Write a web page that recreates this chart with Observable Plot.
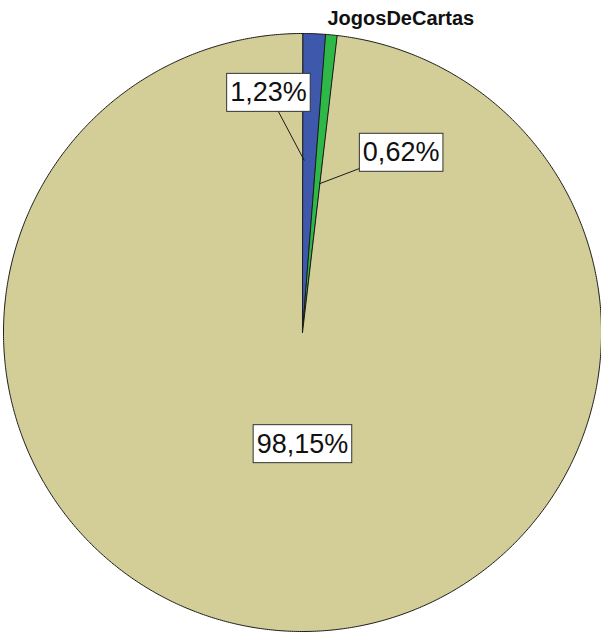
<!DOCTYPE html>
<html><head><meta charset="utf-8">
<script src="https://cdn.jsdelivr.net/npm/d3@7"></script>
<script src="https://cdn.jsdelivr.net/npm/@observablehq/plot@0.6"></script>
<style>body{margin:0;background:#fff}</style>
</head><body><div id="chart"></div>
<script>
// ---- data ----
const categories = ["Outros", "JogosDeCartas", "Restante"];
const values = [1.23, 0.62, 98.15];
const pctLabels = ["1,23%", "0,62%", "98,15%"];
const colors = ["#3e58ac", "#2eb848", "#d3ce97"];
const namedCategory = "JogosDeCartas";

// ---- layout (label placement, polar: angle shift in degrees, radius as fraction) ----
const labelPlacement = [
  {shift: -10.3, r: 0.81, anchorR: 0.575, anchorShift: -1.6},
  {shift: 23.2, r: 0.686, anchorR: 0.5, anchorShift: 0.8},
  {shift: -3.3, r: 0.373, anchorR: null, anchorShift: 0}
];
const nameLabel = {angle: 17.4, r: 1.1};

const pie = d3.pie().sort(null).value(d => d.value).startAngle(0).endAngle(2 * Math.PI);
const arcs = pie(categories.map((c, i) => ({cat: c, value: values[i], label: pctLabels[i]})));

const pts = [];
arcs.forEach(a => {
  pts.push({cat: a.data.cat, x: 0, y: 0});
  const n = Math.max(2, Math.ceil((a.endAngle - a.startAngle) / (0.4 * Math.PI / 180)));
  for (let k = 0; k <= n; k++) {
    const t = a.startAngle + (a.endAngle - a.startAngle) * k / n;
    pts.push({cat: a.data.cat, x: Math.sin(t), y: Math.cos(t)});
  }
});

const deg = Math.PI / 180;
const lab = arcs.map((a, i) => {
  const mid = (a.startAngle + a.endAngle) / 2;
  const p = labelPlacement[i];
  const la = mid + p.shift * deg;
  const aa = mid + p.anchorShift * deg;
  return {
    label: a.data.label,
    x: p.r * Math.sin(la), y: p.r * Math.cos(la),
    ax: p.anchorR == null ? null : p.anchorR * Math.sin(aa),
    ay: p.anchorR == null ? null : p.anchorR * Math.cos(aa)
  };
});
const leaders = lab.filter(d => d.ax != null);
const nameA = nameLabel.angle * deg;

const chart = Plot.plot({
  width: 601, height: 633,
  margin: 0,
  style: {fontFamily: "'Liberation Sans', Arial, sans-serif", background: "white"},
  x: {domain: [-1, 1], range: [3, 601], axis: null},
  y: {domain: [-1, 1], range: [631, 33], axis: null},
  color: {domain: categories, range: colors},
  marks: [
    Plot.line(pts, {x: "x", y: "y", z: "cat", fill: "cat", stroke: "#1a1a1a", strokeWidth: 1, curve: "linear-closed"}),
    Plot.link(leaders, {x1: "ax", y1: "ay", x2: "x", y2: "y", stroke: "#1a1a1a", strokeWidth: 1}),
    Plot.text(lab, {x: "x", y: "y", text: "label", fontSize: 27, fill: "#111", className: "pct"}),
    Plot.text([namedCategory], {x: () => nameLabel.r * Math.sin(nameA), y: () => nameLabel.r * Math.cos(nameA), text: d => d, fontSize: 20, fontWeight: "bold", fill: "#111"})
  ]
});
document.getElementById("chart").appendChild(chart);

// white boxes behind percentage labels
document.querySelectorAll("g.pct text").forEach(t => {
  const b = t.getBBox();
  const padX = 3.5, padY = 4;
  const r = document.createElementNS("http://www.w3.org/2000/svg", "rect");
  r.setAttribute("x", b.x - padX);
  r.setAttribute("y", b.y - padY);
  r.setAttribute("width", b.width + 2 * padX);
  r.setAttribute("height", b.height + 2 * padY);
  r.setAttribute("fill", "white");
  r.setAttribute("stroke", "#333");
  r.setAttribute("stroke-width", "1");
  const tr = t.getAttribute("transform");
  if (tr) r.setAttribute("transform", tr);
  t.parentNode.insertBefore(r, t);
});
</script>
</body></html>
